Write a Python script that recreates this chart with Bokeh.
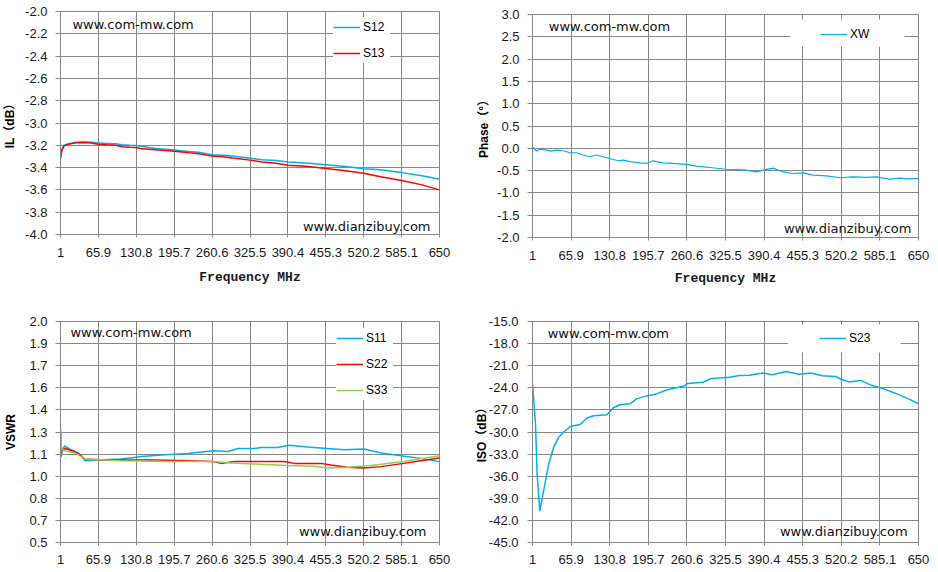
from bokeh.plotting import figure
from bokeh.models import FixedTicker, Legend, LegendItem, Label, BoxAnnotation, Range1d
from bokeh.layouts import column, row
from bokeh.embed import file_html
from bokeh.resources import INLINE

# ---------------- data ----------------
x_ticks = [1, 65.9, 130.8, 195.7, 260.6, 325.5, 390.4, 455.3, 520.2, 585.1, 650]
x_tick_labels = ["1", "65.9", "130.8", "195.7", "260.6", "325.5", "390.4", "455.3", "520.2", "585.1", "650"]

il_ticks = [-4.0, -3.8, -3.6, -3.4, -3.2, -3.0, -2.8, -2.6, -2.4, -2.2, -2.0]
il_tick_labels = ["-4.0", "-3.8", "-3.6", "-3.4", "-3.2", "-3.0", "-2.8", "-2.6", "-2.4", "-2.2", "-2.0"]
ph_ticks = [-2.0, -1.5, -1.0, -0.5, 0.0, 0.5, 1.0, 1.5, 2.0, 2.5, 3.0]
ph_tick_labels = ["-2.0", "-1.5", "-1.0", "-0.5", "0.0", "0.5", "1.0", "1.5", "2.0", "2.5", "3.0"]
vs_ticks = [0.5, 0.65, 0.8, 0.95, 1.1, 1.25, 1.4, 1.55, 1.7, 1.85, 2.0]
vs_tick_labels = ["0.5", "0.7", "0.8", "1.0", "1.1", "1.3", "1.4", "1.6", "1.7", "1.9", "2.0"]
iso_ticks = [-45, -42, -39, -36, -33, -30, -27, -24, -21, -18, -15]
iso_tick_labels = ["-45.0", "-42.0", "-39.0", "-36.0", "-33.0", "-30.0", "-27.0", "-24.0", "-21.0", "-18.0", "-15.0"]

il_freq = [1, 3, 7, 15, 27, 40, 50, 65.9, 80, 95, 107, 120, 130.8, 141, 164, 180, 195.7, 221, 238,
           260.6, 280, 295, 325.5, 346, 370, 390.4, 426, 455.3, 489, 520.2, 549, 585.1, 620, 650]
s12 = [-3.31, -3.24, -3.20, -3.185, -3.172, -3.17, -3.17, -3.18, -3.183, -3.187, -3.195, -3.2, -3.202,
       -3.21, -3.228, -3.235, -3.243, -3.255, -3.262, -3.285, -3.29, -3.296, -3.316, -3.33, -3.336,
       -3.35, -3.362, -3.375, -3.39, -3.41, -3.42, -3.445, -3.474, -3.505]
s13 = [-3.32, -3.25, -3.205, -3.19, -3.178, -3.175, -3.177, -3.19, -3.195, -3.2, -3.213, -3.218, -3.22,
       -3.232, -3.24, -3.247, -3.253, -3.267, -3.275, -3.297, -3.302, -3.313, -3.333, -3.35, -3.36,
       -3.378, -3.39, -3.407, -3.428, -3.45, -3.482, -3.515, -3.555, -3.6]

ph_freq = [1, 7.7, 13.3, 24.5, 32.9, 41.3, 52.6, 63.8, 75, 83.4, 97.4, 108.6, 119.8, 133.8, 145, 153.4,
           164.6, 181.4, 192.7, 203.9, 220.7, 237.5, 259.9, 276.7, 299.1, 327.2, 344, 360.8, 377.6,
           388.8, 405.6, 422.4, 439.2, 456, 472.9, 495.3, 517.7, 540.1, 562.5, 579.3, 601.7, 618.5,
           629.7, 650]
xw = [0.035, -0.065, -0.02, -0.04, -0.065, -0.04, -0.055, -0.1, -0.1, -0.14, -0.19, -0.15, -0.19,
      -0.24, -0.28, -0.265, -0.30, -0.325, -0.34, -0.28, -0.325, -0.34, -0.36, -0.4, -0.43, -0.47,
      -0.475, -0.49, -0.53, -0.49, -0.445, -0.53, -0.565, -0.55, -0.6, -0.62, -0.66, -0.64, -0.65,
      -0.64, -0.69, -0.67, -0.685, -0.68]

s11_freq = [1, 2, 4, 8.4, 17, 31, 43, 65.5, 105, 140, 179, 219, 262, 288, 305, 333, 345, 373, 393,
            424, 458, 487, 521, 550, 584, 618, 650]
s11 = [1.19, 1.08, 1.12, 1.156, 1.134, 1.11, 1.055, 1.06, 1.066, 1.084, 1.095, 1.104, 1.122, 1.118,
       1.138, 1.138, 1.145, 1.145, 1.16, 1.149, 1.138, 1.129, 1.134, 1.107, 1.089, 1.071, 1.049]
s22_freq = [1, 2.5, 5, 9, 26, 36, 43, 77, 162, 219, 262, 276, 299, 384, 401, 447, 464, 492, 521, 549,
            589, 618, 650]
s22 = [1.26, 1.15, 1.125, 1.138, 1.116, 1.09, 1.066, 1.06, 1.06, 1.055, 1.05, 1.037, 1.049, 1.05,
       1.037, 1.037, 1.026, 1.01, 1.006, 1.015, 1.037, 1.055, 1.073]
s33_freq = [1, 2.5, 7.5, 26, 36, 43, 105, 190, 262, 293, 333, 390, 435, 458, 492, 532, 589, 650]
s33 = [1.28, 1.14, 1.122, 1.107, 1.085, 1.066, 1.055, 1.05, 1.05, 1.039, 1.033, 1.022, 1.017, 1.006,
       1.01, 1.022, 1.049, 1.089]

iso_freq = [1, 6, 8.8, 13.2, 19.9, 28.3, 36.6, 45, 53.4, 64.6, 81.3, 92.5, 103.6, 125.9, 137, 148.2,
            164.9, 176, 192.9, 209.6, 226.3, 254.1, 262.5, 287.6, 301.5, 332.2, 348.9, 365.6, 388,
            404.7, 427, 449.3, 468.8, 488.3, 510.6, 519, 532.9, 552.4, 571.9, 588.6, 610.9, 633.3, 650]
s23 = [-23.46, -28.9, -35.7, -40.75, -37.9, -34.3, -32.06, -30.7, -30.0, -29.25, -28.98, -28.1, -27.8,
       -27.67, -26.7, -26.3, -26.17, -25.5, -25.1, -24.83, -24.3, -23.8, -23.4, -23.24, -22.74, -22.56,
       -22.33, -22.3, -22.0, -22.24, -21.8, -22.15, -22.0, -22.37, -22.47, -22.8, -23.2, -23.0, -23.7,
       -24.05, -24.73, -25.5, -26.17]

# ---------------- styling ----------------
GRID = "#878787"
BLUE = "#00B0F0"
RED = "#FF0000"
GREEN = "#92D050"
TICK_FONT = "Liberation Sans"
TITLE_FONT = "Liberation Sans, Noto Sans CJK SC"


def make_fig(width, height, borders, y_lo, y_hi, y_ticks, y_labels, y_title, x_title,
             y_label_standoff, y_title_standoff, x_label_standoff, x_title_standoff):
    left, right, top, bottom = borders
    p = figure(width=width, height=height, output_backend="svg", toolbar_location=None,
               x_range=Range1d(1, 650), y_range=Range1d(y_lo, y_hi),
               min_border_left=left, min_border_right=right,
               min_border_top=top, min_border_bottom=bottom)
    p.background_fill_color = "white"
    p.border_fill_color = "white"
    p.outline_line_color = GRID
    p.outline_line_width = 1

    p.xaxis.ticker = FixedTicker(ticks=x_ticks)
    p.xaxis.major_label_overrides = {t: s for t, s in zip(x_ticks, x_tick_labels)}
    p.yaxis.ticker = FixedTicker(ticks=y_ticks)
    p.yaxis.major_label_overrides = {t: s for t, s in zip(y_ticks, y_labels)}

    for ax in (p.xaxis[0], p.yaxis[0]):
        ax.axis_line_color = GRID
        ax.major_tick_line_color = GRID
        ax.minor_tick_line_color = None
        ax.major_tick_in = 0
        ax.major_label_text_font = TICK_FONT
        ax.major_label_text_font_size = "13px"
        ax.major_label_text_color = "#1a1a1a"
    p.xaxis.major_tick_out = 3
    p.yaxis.major_tick_out = 5
    p.yaxis.major_label_standoff = y_label_standoff
    p.xaxis.major_label_standoff = x_label_standoff

    p.yaxis.axis_label = y_title
    p.yaxis.axis_label_text_font = TITLE_FONT
    p.yaxis.axis_label_text_font_style = "bold"
    p.yaxis.axis_label_text_font_size = "12px"
    p.yaxis.axis_label_text_color = "black"
    p.yaxis.axis_label_standoff = y_title_standoff
    if x_title:
        p.xaxis.axis_label = x_title
        p.xaxis.axis_label_text_font = "Liberation Mono"
        p.xaxis.axis_label_text_font_style = "bold"
        p.xaxis.axis_label_text_font_size = "13px"
        p.xaxis.axis_label_text_color = "#1a1a1a"
        p.xaxis.axis_label_standoff = x_title_standoff

    p.xgrid.ticker = FixedTicker(ticks=x_ticks)
    p.ygrid.ticker = FixedTicker(ticks=y_ticks)
    p.grid.grid_line_color = GRID
    p.grid.grid_line_width = 1
    return p


def watermark(p, x, y, text, align):
    p.add_layout(Label(x=x, y=y, text=text, text_font="DejaVu Sans", text_font_size="13px",
                       text_color="#111111", text_align=align, text_baseline="middle"))


def make_legend(p, items, loc, padding, label_width):
    lg = Legend(items=[LegendItem(label=l, renderers=[r]) for l, r in items],
                location=loc, padding=padding, spacing=6, margin=0,
                glyph_width=27, glyph_height=20, label_height=20, label_width=label_width,
                label_standoff=3, background_fill_color="white", background_fill_alpha=1.0,
                border_line_color=None, label_text_font=TICK_FONT, label_text_font_size="12px",
                label_text_color="black")
    p.add_layout(lg)


# ---- top-left: IL ----
p1 = make_fig(470, 288, (60, 31, 11, 54), -4.0, -2.0, il_ticks, il_tick_labels, "IL（dB）",
              "Frequency MHz", 8, 5, 10, 10)
r12 = p1.line(il_freq, s12, line_color=BLUE, line_width=1.5)
r13 = p1.line(il_freq, s13, line_color=RED, line_width=1.5)
watermark(p1, 21.5, -2.117, "www.com-mw.com", "left")
watermark(p1, 634.6, -3.928, "www.dianzibuy.com", "right")
make_legend(p1, [("S12", r12), ("S13", r13)], (273, 171), 5, 27)

# ---- top-right: Phase ----
p2 = make_fig(466, 288, (62, 18, 14, 51), -2.0, 3.0, ph_ticks, ph_tick_labels, "Phase（°）",
              "Frequency MHz", 8, 3, 10, 8)
rxw = p2.line(ph_freq, xw, line_color=BLUE, line_width=1.2)
watermark(p2, 28.4, 2.72, "www.com-mw.com", "left")
watermark(p2, 638.2, -1.80, "www.dianzibuy.com", "right")
p2.add_layout(BoxAnnotation(left=434.8, right=626.4, bottom=2.283, top=2.888,
                            fill_color="white", fill_alpha=1.0, line_color=None))
make_legend(p2, [("XW", rxw)], (288, 193), 4, 46)

# ---- bottom-left: VSWR ----
p3 = make_fig(470, 282, (60, 30, 33, 28), 0.5, 2.0, vs_ticks, vs_tick_labels, "VSWR",
              None, 8, 8, 9, 0)
r11 = p3.line(s11_freq, s11, line_color=BLUE, line_width=1.5)
r22 = p3.line(s22_freq, s22, line_color=RED, line_width=1.5)
r33 = p3.line(s33_freq, s33, line_color=GREEN, line_width=1.5)
watermark(p3, 18.1, 1.928, "www.com-mw.com", "left")
watermark(p3, 627.8, 0.574, "www.dianzibuy.com", "right")
make_legend(p3, [("S11", r11), ("S22", r22), ("S33", r33)], (276, 142), 4, 27)

# ---- bottom-right: ISO ----
p4 = make_fig(466, 282, (62, 18, 33, 28), -45, -15, iso_ticks, iso_tick_labels, "ISO（dB）",
              None, 9, -3, 9, 0)
r23 = p4.line(iso_freq, s23, line_color=BLUE, line_width=1.5)
watermark(p4, 26.6, -16.63, "www.com-mw.com", "left")
watermark(p4, 631.6, -43.5, "www.dianzibuy.com", "right")
p4.add_layout(BoxAnnotation(left=430.9, right=620.0, bottom=-19.21, top=-15.41,
                            fill_color="white", fill_alpha=1.0, line_color=None))
make_legend(p4, [("S23", r23)], (287, 194), 4, 46)

layout = row(column(p1, p3), column(p2, p4))
open("out.html", "w").write(file_html(layout, INLINE))
